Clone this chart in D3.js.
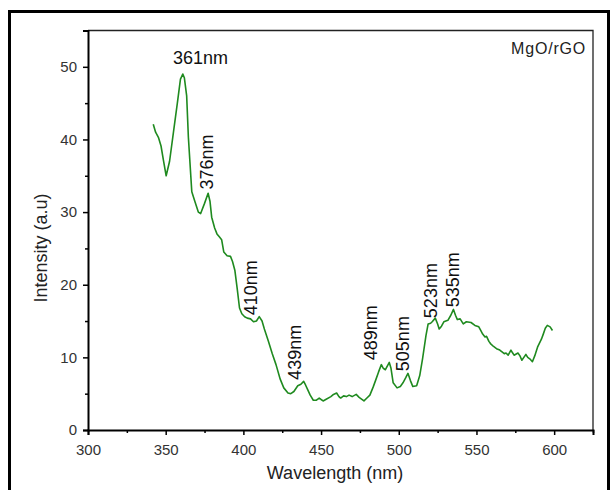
<!DOCTYPE html>
<html>
<head>
<meta charset="utf-8">
<script src="https://cdn.jsdelivr.net/npm/d3@7"></script>
<style>
  body { margin: 0; background: #fff; }
  text { font-family: "Liberation Sans", Arial, sans-serif; }
</style>
</head>
<body>
<div id="chart"></div>
<script>
// wavelength (nm) and PL intensity (a.u)
const wavelength = [342, 343.5, 345.3, 347, 348.5, 350.3, 352.5, 355, 357.5, 359.5, 361, 362, 363.5, 364.6, 366.8, 368.9,
  371, 372.5, 375, 377.3, 378.5, 379.6, 381.5, 383, 384.5, 386, 387.4, 389.5, 391.7, 393, 394.5, 396, 397.5, 399, 400.8,
  402.5, 404.6, 406.5, 408.4, 410.2, 412, 413.5, 416, 418.6, 421, 423.7, 426, 428.7, 430.5, 432.5, 435, 437, 438.8, 440,
  441.3, 443, 445, 447, 448.8, 450, 451.3, 453, 456.3, 458, 460, 461.5, 462.6, 464.5, 466.3, 468, 470, 472.6, 474.5, 477.6,
  479.5, 481.4, 483.5, 485.2, 487, 488.8, 490, 491.4, 493.9, 495, 496.4, 498.9, 501, 502.7, 504.5, 505.9, 507.5, 509,
  511.5, 513.5, 515.3, 517.5, 518.9, 520.5, 521.5, 523.5, 525, 526, 527.5, 529, 531.6, 533.5, 535.2, 536.5, 537.7, 539.5,
  541.5, 543.5, 546.5, 549, 551.5, 553, 554, 555.5, 556.5, 558, 559, 561, 562.9, 565, 567.9, 569, 570.4, 572.2, 573,
  574.2, 576.7, 578, 579.2, 580.5, 581.8, 583, 584.3, 586, 587.5, 589.3, 591.8, 593, 594.3, 595.6, 597.4, 598.9];
const intensity = [42.1, 41.0, 40.3, 39.1, 37.2, 35.0, 37.0, 41.0, 45.0, 48.3, 49.0, 48.5, 46.0, 40.3, 32.8, 31.4,
  30.0, 29.8, 31.2, 32.6, 31.5, 29.3, 27.8, 27.0, 26.6, 26.2, 24.5, 24.0, 23.9, 23.2, 22.0, 19.5, 16.8, 16.0, 15.6,
  15.4, 15.3, 14.9, 15.0, 15.6, 15.0, 13.9, 12.3, 10.5, 9.0, 7.0, 5.8, 5.1, 5.0, 5.3, 6.1, 6.3, 6.7, 6.2,
  5.6, 4.8, 4.1, 4.1, 4.4, 4.2, 4.0, 4.2, 4.6, 4.9, 5.1, 4.6, 4.4, 4.7, 4.6, 4.8, 4.6, 4.9, 4.5, 4.0,
  4.4, 4.8, 5.9, 6.9, 8.0, 9.0, 8.5, 8.3, 9.3, 8.5, 6.5, 5.8, 6.0, 6.5, 7.2, 7.8, 6.8, 6.0,
  6.1, 7.5, 9.8, 13.0, 14.6, 14.7, 14.9, 15.4, 14.6, 13.9, 14.3, 14.9, 15.1, 15.8, 16.6, 15.8, 15.2, 15.3,
  14.6, 14.9, 14.8, 14.4, 14.2, 13.6, 13.2, 12.8, 12.9, 12.2, 11.9, 11.5, 11.2, 11.0, 10.5, 10.6, 10.3, 11.0, 10.7,
  10.3, 10.6, 10.2, 9.6, 10.0, 10.4, 10.0, 9.8, 9.4, 10.2, 11.4, 12.5, 13.2, 14.0, 14.4, 14.2, 13.7];

const xTicks = [300, 350, 400, 450, 500, 550, 600];
const xMinor = [325, 375, 425, 475, 525, 575, 625];
const yTicks = [0, 10, 20, 30, 40, 50];
const yMinor = [5, 15, 25, 35, 45, 55];

// peak labels: text, anchor wavelength, anchor intensity
const peakText = ["376nm", "410nm", "439nm", "489nm", "505nm", "523nm", "535nm"];
const peakX = [380.5, 408.8, 437.2, 486.1, 506.7, 524.7, 538.9];
const peakY = [33.1, 15.8, 6.9, 9.6, 8.1, 15.4, 16.9];

const width = 610, height = 490;
const svg = d3.select("#chart").append("svg")
  .attr("width", width)
  .attr("height", height);

// outer frame of the figure
svg.append("rect")
  .attr("x", 9.5).attr("y", 11.5)
  .attr("width", 599).attr("height", 490)
  .attr("fill", "none").attr("stroke", "#000").attr("stroke-width", 3);

const x = d3.scaleLinear().domain([300, 625]).range([88, 593]);
const y = d3.scaleLinear().domain([0, 55]).range([430, 30.5]);

// top and right plot border
svg.append("path")
  .attr("d", `M${x(300)},${y(55)}H${x(625)}V${y(0)}`)
  .attr("fill", "none").attr("stroke", "#222").attr("stroke-width", 1.3);

const xAxis = svg.append("g")
  .attr("transform", `translate(0,${y(0)})`)
  .call(d3.axisBottom(x).tickValues(xTicks).tickSize(5).tickPadding(6).tickFormat(d3.format("d")));
svg.append("g")
  .attr("transform", `translate(0,${y(0)})`)
  .call(d3.axisBottom(x).tickValues(xMinor).tickSize(3).tickFormat(""))
  .call(g => g.select(".domain").remove());

const yAxis = svg.append("g")
  .attr("transform", `translate(${x(300)},0)`)
  .call(d3.axisLeft(y).tickValues(yTicks).tickSize(5).tickPadding(6));
svg.append("g")
  .attr("transform", `translate(${x(300)},0)`)
  .call(d3.axisLeft(y).tickValues(yMinor).tickSize(3).tickFormat(""))
  .call(g => g.select(".domain").remove());

svg.selectAll(".domain").attr("stroke", "#000").attr("stroke-width", 2);
svg.selectAll(".tick line").attr("stroke", "#000").attr("stroke-width", 1.5);
svg.selectAll(".tick text")
  .attr("fill", "#333")
  .style("font-size", "15px")
  .style("font-family", "'Liberation Sans', Arial, sans-serif");
xAxis.selectAll(".tick text").attr("dy", "0.9em");

// axis titles
svg.append("text")
  .attr("x", 335).attr("y", 479)
  .attr("text-anchor", "middle")
  .style("font-size", "18px").attr("fill", "#222")
  .text("Wavelength (nm)");
svg.append("text")
  .attr("transform", "translate(47,248) rotate(-90)")
  .attr("text-anchor", "middle")
  .style("font-size", "18px").attr("fill", "#222")
  .text("Intensity (a.u)");

// spectrum
const pts = wavelength.map((w, i) => [w, intensity[i]]);
svg.append("path")
  .datum(pts)
  .attr("fill", "none")
  .attr("stroke", "#1f8a1f")
  .attr("stroke-width", 1.6)
  .attr("stroke-linejoin", "round")
  .attr("d", d3.line().x(d => x(d[0])).y(d => y(d[1])));

// legend text
svg.append("text")
  .attr("x", 586).attr("y", 54)
  .attr("text-anchor", "end")
  .style("font-size", "16px").style("letter-spacing", "0.8px")
  .attr("fill", "#222")
  .text("MgO/rGO");

// main peak label
svg.append("text")
  .attr("x", x(372.4)).attr("y", y(50.4))
  .attr("text-anchor", "middle")
  .style("font-size", "18px").attr("fill", "#111")
  .text("361nm");

// rotated peak labels
svg.selectAll(".peak")
  .data(peakText)
  .enter().append("text")
  .attr("class", "peak")
  .attr("transform", (d, i) => `translate(${x(peakX[i])},${y(peakY[i])}) rotate(-90)`)
  .style("font-size", "18px").attr("fill", "#111")
  .text(d => d);
</script>
</body>
</html>
